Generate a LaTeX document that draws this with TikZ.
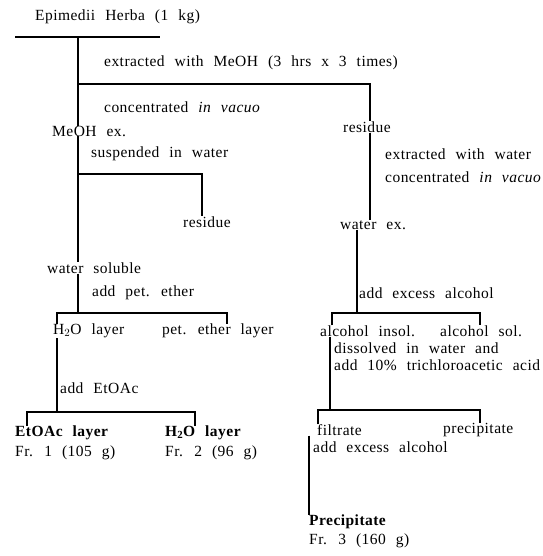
\documentclass[tikz,border=0pt]{standalone}
\usepackage{fontspec}
\setmainfont{Liberation Serif}[WordSpace={2.3},LetterSpace=3]
\begin{document}
\begin{tikzpicture}[x=1pt,y=-1pt,
  lbl/.style={anchor=west,inner sep=0pt,font=\fontsize{15.5}{16}\selectfont},
  bl/.style={lbl,font=\fontsize{15.5}{16}\selectfont\bfseries},
  ln/.style={line width=1.2pt},
  thick bar/.style={line width=2.4pt}]
\useasboundingbox (0,0) rectangle (542,556);
% texts
\node[lbl] (herba) at (35,17) {Epimedii Herba (1 kg)};
\node[lbl] (ext1) at (104,63) {extracted with MeOH (3 hrs x 3 times)};
\node[lbl] (conc1) at (104,107) {concentrated \textit{in vacuo}};
\node[lbl] (meoh) at (52,131) {MeOH ex.};
\node[lbl] (res1) at (343,127) {residue};
\node[lbl] (susp) at (91,154) {suspended in water};
\node[lbl] (res2) at (183,222) {residue};
\node[lbl] (ws) at (47,268) {water soluble};
\node[lbl] (ext2) at (385,154) {extracted with water};
\node[lbl] (conc2) at (385,177) {concentrated \textit{in vacuo}};
\node[lbl] (wex) at (340,225) {water ex.};
\node[lbl] (pet) at (92,293) {add pet. ether};
\node[lbl] (aea1) at (359,293) {add excess alcohol};
\node[lbl] (h2o1) at (53,331) {H$_2$O layer};
\node[lbl] (petl) at (162,331) {pet. ether layer};
\node[lbl] (ains) at (320,331) {alcohol insol.};
\node[lbl] (asol) at (440,331) {alcohol sol.};
\node[lbl] (etac) at (60,388) {add EtOAc};
\node[lbl] (diss) at (334,348) {dissolved in water and};
\node[lbl] (tca) at (334,365) {add 10\% trichloroacetic acid};
\node[bl] (etl) at (15,433) {EtOAc layer};
\node[bl] (h2o2) at (165,433) {H$_\mathbf{2}$O layer};
\node[lbl] (fr1) at (15,453) {Fr. 1 (105 g)};
\node[lbl] (fr2) at (165,453) {Fr. 2 (96 g)};
\node[lbl] (filt) at (317,430) {filtrate};
\node[lbl] (prec) at (443,430) {precipitate};
\node[lbl] (aea2) at (313,447) {add excess alcohol};
\node[bl] (ppt) at (309,522) {Precipitate};
\node[lbl] (fr3) at (309,541) {Fr. 3 (160 g)};
% junction coordinates
\coordinate (b0L) at (15,37);
\coordinate (b0R) at (160,37);
\coordinate (t0) at (78,37);
\coordinate (j1) at (78,84);
\coordinate (j1R) at (370,84);
\coordinate (j2) at (78,174);
\coordinate (j2R) at (202,174);
\coordinate (r1) at (370,140);
\coordinate (j3) at (78,313);
\coordinate (j3L) at (57,313);
\coordinate (j3R) at (227,313);
\coordinate (j4) at (57,412);
\coordinate (j4L) at (27,412);
\coordinate (j4R) at (195,412);
\coordinate (j5) at (357,313);
\coordinate (j5L) at (332,313);
\coordinate (j5R) at (480,313);
\coordinate (j6) at (330,410);
\coordinate (j6L) at (318,410);
\coordinate (j6R) at (480,410);
\coordinate (f0) at (309,437);
% connectors
\draw[thick bar] (b0L) -- (b0R);
\draw[ln] (t0) -- (t0 |- meoh.north);
\draw[ln] (j1) -- (j1R) -- (j1R |- res1.north);
\draw[ln] (j2 |- meoh.south) -- (j2 |- ws.north);
\draw[ln] (j2) -- (j2R) -- (j2R |- res2.north);
\draw[ln] (r1 |- res1.south) -- (r1 |- wex.north);
\draw[ln] (j3 |- ws.south) -- (j3);
\draw[ln] (j3L |- h2o1.north) -- (j3L) -- (j3R) -- (j3R |- petl.north);
\draw[ln] (j4 |- h2o1.south) -- (j4);
\draw[ln] (j4L |- etl.north) -- (j4L) -- (j4R) -- (j4R |- h2o2.north);
\draw[ln] (j5 |- wex.south) -- (j5);
\draw[ln] (j5L |- ains.north) -- (j5L) -- (j5R) -- (j5R |- asol.north);
\draw[ln] (j6 |- ains.south) -- (j6);
\draw[ln] (j6L |- filt.north) -- (j6L) -- (j6R) -- (j6R |- prec.north);
\draw[ln] (f0 |- filt.south) -- (f0 |- ppt.north);
\end{tikzpicture}
\end{document}
